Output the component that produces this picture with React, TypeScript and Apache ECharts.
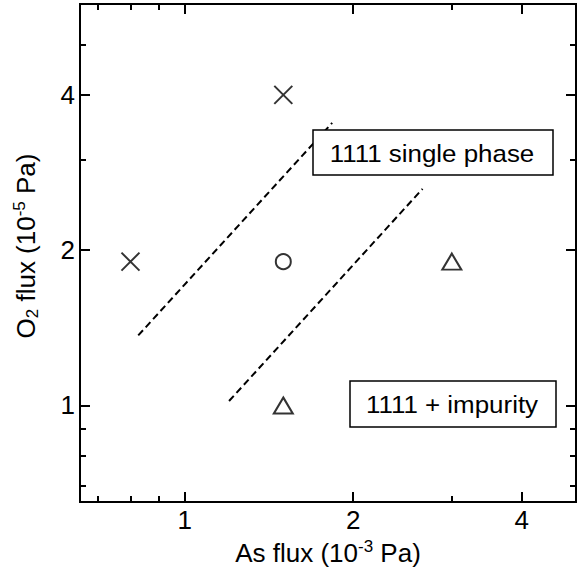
import React, { useEffect, useRef } from "react";
import * as echarts from "echarts";

// Axis ranges (log scale, original units)
const xRange = [0.65, 5];
const yRange = [0.65, 6];

// Tick values
const xMajorTicks = [1, 2, 4];
const xMinorTicks = [0.7, 0.8, 0.9, 3];
const yMajorTicks = [1, 2, 4];
const yMinorTicks = [0.7, 0.8, 0.9, 3, 5];

// Data points [As flux (1e-3 Pa), O2 flux (1e-5 Pa)]
const crossPoints = [
  [0.8, 1.9],
  [1.5, 4],
];
const circlePoints = [[1.5, 1.9]];
const trianglePoints = [
  [1.5, 1.0],
  [3, 1.9],
];

// Dashed boundary lines
const boundaryUpper = [
  [0.826, 1.367],
  [1.834, 3.53],
];
const boundaryLower = [
  [1.2, 1.02],
  [2.66, 2.63],
];

const regionLabels = ["1111 single phase", "1111 + impurity"];

const FONT = "'Liberation Sans', Arial, Helvetica, sans-serif";
const lg = (v: number) => Math.log10(v);
const fmt = (v: number) => String(Math.round(Math.pow(10, v)));
const toLog = (pts: number[][]) => pts.map(([x, y]) => [lg(x), lg(y)]);

function makeAxis(
  position: string,
  ticks: number[],
  length: number,
  withLabel: boolean,
  range: number[],
  extra: any = {}
) {
  return {
    type: "value",
    position,
    min: lg(range[0]),
    max: lg(range[1]),
    axisLine: { show: true, onZero: false, lineStyle: { color: "#000", width: 2 } },
    axisTick: {
      show: true,
      inside: true,
      length,
      customValues: ticks.map(lg),
      lineStyle: { color: "#000", width: 2 },
    },
    axisLabel: withLabel
      ? {
          show: true,
          customValues: ticks.map(lg),
          formatter: fmt,
          fontSize: 26,
          fontFamily: FONT,
          color: "#000",
          margin: 5,
        }
      : { show: false },
    splitLine: { show: false },
    ...extra,
  };
}

export default function App() {
  const ref = useRef<HTMLDivElement>(null);
  useEffect(() => {
    document.body.style.margin = "0";
    if (!ref.current) return;
    const chart = echarts.init(ref.current, null, { renderer: "svg" });
    const nameStyle = (rich: any, padding: number[] = [0, 0, 0, 0]) => ({
      fontSize: 26,
      fontFamily: FONT,
      color: "#000",
      lineHeight: 30,
      padding,
      rich,
    });
    const boxText = (text: string, x: number, y: number) => ({
      type: "text",
      z: 101,
      x,
      y,
      scaleX: 1.08,
      style: {
        text,
        fontSize: 24,
        fontFamily: FONT,
        fill: "#000",
        align: "center",
        verticalAlign: "middle",
        textAlign: "center",
        textVerticalAlign: "middle",
      },
    });
    chart.setOption({
      animation: false,
      backgroundColor: "#fff",
      grid: { left: 80, right: 5, top: 4, bottom: 77, containLabel: false },
      xAxis: [
        makeAxis("bottom", xMajorTicks, 10, true, xRange, {
          name: "As flux (10{sup|-3} Pa)",
          nameLocation: "middle",
          nameGap: 33,
          nameTextStyle: nameStyle({
            sup: { fontSize: 17, fontFamily: FONT, color: "#000", lineHeight: 17, verticalAlign: "top" },
          }),
        }),
        makeAxis("bottom", xMinorTicks, 6, false, xRange),
        makeAxis("top", xMajorTicks, 10, false, xRange),
        makeAxis("top", xMinorTicks, 6, false, xRange),
      ],
      yAxis: [
        makeAxis("left", yMajorTicks, 10, true, yRange, {
          name: "O{sub|2} flux (10{sup|-5} Pa)",
          nameLocation: "middle",
          nameGap: 39,
          nameTextStyle: nameStyle(
            {
              sup: { fontSize: 17, fontFamily: FONT, color: "#000", lineHeight: 17, verticalAlign: "top" },
              sub: { fontSize: 17, fontFamily: FONT, color: "#000", lineHeight: 11, verticalAlign: "bottom" },
            },
            [0, 0, 0, 14]
          ),
        }),
        makeAxis("left", yMinorTicks, 6, false, yRange),
        makeAxis("right", yMajorTicks, 10, false, yRange),
        makeAxis("right", yMinorTicks, 6, false, yRange),
      ],
      series: [
        {
          type: "line",
          data: toLog(boundaryUpper),
          symbol: "none",
          silent: true,
          z: 1,
          lineStyle: { color: "#000", width: 2, type: [7, 4] },
        },
        {
          type: "line",
          data: toLog(boundaryLower),
          symbol: "none",
          silent: true,
          z: 1,
          lineStyle: { color: "#000", width: 2, type: [7, 4] },
        },
        {
          type: "scatter",
          data: toLog(crossPoints),
          symbol: "path://M0,0L10,10M10,0L0,10",
          symbolSize: 18,
          silent: true,
          itemStyle: { color: "transparent", borderColor: "#000", borderWidth: 2 },
        },
        {
          type: "scatter",
          data: toLog(circlePoints),
          symbol: "circle",
          symbolSize: 15,
          silent: true,
          itemStyle: { color: "#fff", borderColor: "#000", borderWidth: 2 },
        },
        {
          type: "scatter",
          data: toLog(trianglePoints),
          symbol: "triangle",
          symbolSize: [19, 16],
          silent: true,
          itemStyle: { color: "#fff", borderColor: "#000", borderWidth: 2 },
        },
      ],
      graphic: [
        {
          type: "rect",
          z: 100,
          shape: { x: 313, y: 130, width: 240, height: 45 },
          style: { fill: "#fff", stroke: "#000", lineWidth: 1.5 },
        },
        boxText(regionLabels[0], 432, 153),
        {
          type: "rect",
          z: 100,
          shape: { x: 350, y: 381, width: 206, height: 46 },
          style: { fill: "#fff", stroke: "#000", lineWidth: 1.5 },
        },
        boxText(regionLabels[1], 452, 404),
      ],
    });
    return () => chart.dispose();
  }, []);
  return <div ref={ref} style={{ width: 581, height: 579 }} />;
}
